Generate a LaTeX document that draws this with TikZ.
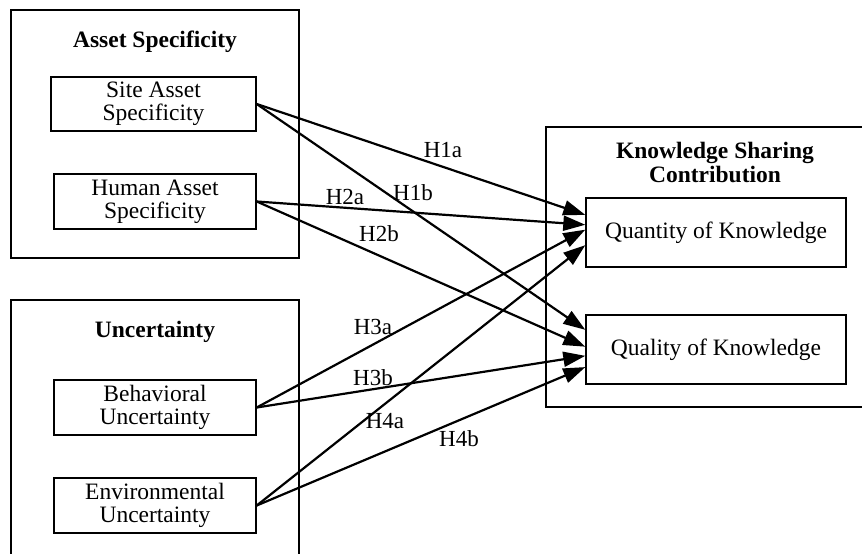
\documentclass[tikz,border=0pt]{standalone}
\usepackage{fontspec}
\setmainfont{Liberation Serif}
\usetikzlibrary{arrows.meta,calc}

\begin{document}
\begin{tikzpicture}[x=1pt,y=-1pt,
    grp/.style={draw,line width=1.4pt},
    grptitle/.style={font=\fontsize{23.5}{24}\selectfont\bfseries,align=center},
    var/.style={draw,line width=1.4pt,align=center,inner sep=0pt,
      font=\fontsize{23.5}{23}\selectfont},
    hlbl/.style={font=\fontsize{23}{23}\selectfont,inner sep=1pt},
    arr/.style={line width=2.2pt,-{Triangle[length=22pt,width=15pt]}}]
        \clip (0,0) rectangle (862,554);
        % groups
        \draw[grp] (11,10) rectangle (299,258);
        \draw[grp] (11,300) rectangle (299,570);
        \draw[grp] (546,127) rectangle (880,407);
        \node[grptitle] (tasset) at (155,42) {Asset Specificity};
        \node[grptitle] (tunc) at (155,332) {Uncertainty};
        \node[grptitle] (tks) at (715,162) {Knowledge Sharing\\Contribution};
        % variables
        \node[var,minimum width=205pt,minimum height=54pt] (site) at (153.5,104) {Site Asset\\Specificity};
        \node[var,minimum width=202pt,minimum height=55pt] (human) at (155,201.5) {Human Asset\\Specificity};
        \node[var,minimum width=202pt,minimum height=55pt] (behav) at (155,407.5) {Behavioral\\Uncertainty};
        \node[var,minimum width=202pt,minimum height=55pt] (envir) at (155,505.5) {Environmental\\Uncertainty};
        \node[var,minimum width=260pt,minimum height=69pt] (qty) at (716,232.5) {Quantity of Knowledge};
        \node[var,minimum width=260pt,minimum height=69pt] (qual) at (716,349.5) {Quality of Knowledge};
        % hypotheses
        \draw[arr] (site.east) -- ($(qty.north west)!.25!(qty.south west)$);
        \draw[arr] (site.east) -- ($(qual.north west)!.22!(qual.south west)$);
        \draw[arr] (human.east) -- ($(qty.north west)!.39!(qty.south west)$);
        \draw[arr] (human.east) -- ($(qual.north west)!.46!(qual.south west)$);
        \draw[arr] (behav.east) -- ($(qty.north west)!.46!(qty.south west)$);
        \draw[arr] (behav.east) -- ($(qual.north west)!.59!(qual.south west)$);
        \draw[arr] (envir.east) -- ($(qty.north west)!.68!(qty.south west)$);
        \draw[arr] (envir.east) -- ($(qual.north west)!.75!(qual.south west)$);
        \node[hlbl] (h1a) at (443,150) {H1a};
        \node[hlbl] (h1b) at (413,193) {H1b};
        \node[hlbl] (h2a) at (345,197) {H2a};
        \node[hlbl] (h2b) at (379,234) {H2b};
        \node[hlbl] (h3a) at (373,327) {H3a};
        \node[hlbl] (h3b) at (373,378) {H3b};
        \node[hlbl] (h4a) at (385,421) {H4a};
        \node[hlbl] (h4b) at (459,439) {H4b};
\end{tikzpicture}
\end{document}
